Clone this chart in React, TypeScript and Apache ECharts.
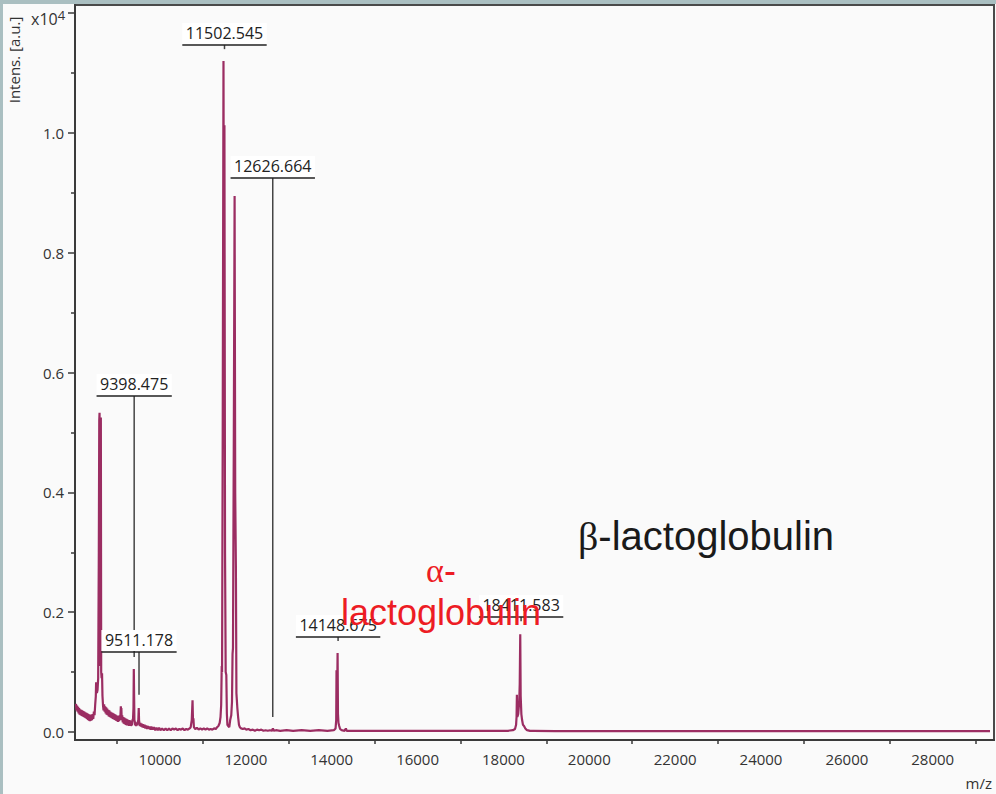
import React, { useEffect, useRef } from "react";
import * as echarts from "echarts";

// ---- spectrum (m/z, intensity in units of 10^4) ----
const spectrumMz = [
  8043, 8055, 8068, 8080, 8092, 8104, 8116, 8128, 8140, 8152, 8164, 8176, 8188, 8200, 8212, 8224,
  8236, 8248, 8260, 8272, 8284, 8296, 8308, 8320, 8332, 8344, 8356, 8368, 8380, 8392, 8404, 8416,
  8430, 8445, 8460, 8475, 8490, 8505, 8512, 8520, 8530, 8545, 8560, 8575, 8585, 8592, 8600, 8608,
  8615, 8622, 8630, 8640, 8650, 8660, 8672, 8685, 8698, 8710, 8722, 8734, 8746, 8758, 8770, 8782,
  8794, 8806, 8818, 8830, 8842, 8854, 8866, 8878, 8890, 8902, 8914, 8926, 8938, 8950, 8962, 8974,
  8986, 8998, 9010, 9022, 9034, 9046, 9058, 9070, 9080, 9088, 9094, 9100, 9108, 9120, 9132, 9144,
  9156, 9168, 9180, 9192, 9204, 9216, 9228, 9240, 9252, 9264, 9276, 9288, 9300, 9312, 9324, 9336,
  9348, 9360, 9372, 9382, 9390, 9397, 9404, 9414, 9422, 9432, 9444, 9456, 9468, 9480, 9495, 9505,
  9512, 9520, 9532, 9545, 9560, 9575, 9590, 9605, 9620, 9640, 9660, 9680, 9700, 9720, 9740, 9760,
  9780, 9800, 9830, 9860, 9890, 9920, 9950, 9980, 10010, 10050, 10090, 10130, 10170, 10210, 10250, 10290,
  10330, 10370, 10410, 10450, 10490, 10530, 10570, 10610, 10650, 10690, 10715, 10740, 10758, 10768, 10778, 10790,
  10820, 10860, 10900, 10940, 10980, 11020, 11060, 11100, 11140, 11180, 11220, 11260, 11300, 11330, 11360, 11390,
  11410, 11425, 11438, 11446, 11461, 11479, 11492, 11501, 11515, 11530, 11545, 11558, 11570, 11590, 11614, 11635,
  11660, 11677, 11690, 11700, 11720, 11738, 11752, 11768, 11780, 11792, 11802, 11820, 11840, 11860, 11890, 11930,
  11970, 12010, 12060, 12110, 12160, 12210, 12260, 12310, 12360, 12410, 12460, 12510, 12560, 12610, 12630, 12650,
  12700, 12800, 12950, 13100, 13300, 13500, 13700, 13900, 14050, 14090, 14105, 14112, 14120, 14128, 14137, 14146,
  14158, 14175, 14195, 14230, 14300, 14330, 14350, 14400, 14700, 15000, 15400, 15800, 16200, 16600, 17000, 17400,
  17800, 18100, 18220, 18270, 18295, 18306, 18314, 18324, 18345, 18368, 18380, 18392, 18402, 18418, 18435, 18455,
  18480, 18510, 18550, 18620, 18700, 19200, 20000, 21000, 22000, 23000, 24000, 25000, 26000, 27000, 28000, 29335,
];
const spectrumIntensity = [
  0.047, 0.036, 0.044, 0.034, 0.042, 0.031, 0.040, 0.029, 0.038, 0.028, 0.037, 0.027, 0.036, 0.026, 0.035, 0.025,
  0.034, 0.024, 0.033, 0.023, 0.032, 0.022, 0.031, 0.020, 0.030, 0.019, 0.029, 0.018, 0.028, 0.019, 0.029, 0.020,
  0.030, 0.022, 0.034, 0.028, 0.045, 0.060, 0.083, 0.070, 0.065, 0.070, 0.090, 0.300, 0.520, 0.533, 0.300, 0.110,
  0.520, 0.525, 0.100, 0.090, 0.098, 0.060, 0.045, 0.036, 0.046, 0.034, 0.043, 0.031, 0.041, 0.029, 0.039, 0.028,
  0.037, 0.026, 0.036, 0.025, 0.034, 0.024, 0.033, 0.023, 0.032, 0.022, 0.031, 0.021, 0.030, 0.020, 0.029, 0.019,
  0.028, 0.018, 0.027, 0.017, 0.026, 0.018, 0.028, 0.020, 0.030, 0.043, 0.032, 0.040, 0.020, 0.028, 0.016, 0.025,
  0.014, 0.024, 0.013, 0.023, 0.012, 0.022, 0.011, 0.021, 0.012, 0.020, 0.010, 0.020, 0.011, 0.019, 0.010, 0.018,
  0.011, 0.020, 0.022, 0.040, 0.105, 0.060, 0.020, 0.017, 0.011, 0.016, 0.010, 0.015, 0.011, 0.016, 0.020, 0.040,
  0.020, 0.015, 0.010, 0.015, 0.009, 0.014, 0.008, 0.013, 0.007, 0.012, 0.006, 0.011, 0.005, 0.010, 0.005, 0.009,
  0.004, 0.009, 0.004, 0.008, 0.003, 0.007, 0.003, 0.007, 0.003, 0.006, 0.003, 0.006, 0.003, 0.006, 0.003, 0.006,
  0.004, 0.006, 0.003, 0.005, 0.004, 0.006, 0.003, 0.005, 0.004, 0.006, 0.008, 0.020, 0.053, 0.022, 0.023, 0.008,
  0.005, 0.007, 0.004, 0.006, 0.004, 0.006, 0.004, 0.006, 0.004, 0.005, 0.004, 0.006, 0.005, 0.008, 0.010, 0.015,
  0.025, 0.045, 0.110, 0.100, 0.500, 1.120, 0.600, 1.013, 0.300, 0.100, 0.095, 0.030, 0.012, 0.010, 0.008, 0.020,
  0.028, 0.050, 0.130, 0.140, 0.500, 0.895, 0.400, 0.274, 0.065, 0.065, 0.040, 0.025, 0.012, 0.008, 0.006, 0.005,
  0.006, 0.004, 0.005, 0.003, 0.004, 0.002, 0.004, 0.003, 0.004, 0.002, 0.003, 0.002, 0.003, 0.002, 0.006, 0.002,
  0.003, 0.002, 0.003, 0.002, 0.003, 0.002, 0.003, 0.002, 0.003, 0.006, 0.020, 0.103, 0.050, 0.070, 0.132, 0.030,
  0.015, 0.010, 0.005, 0.003, 0.002, 0.006, 0.002, 0.002, 0.002, 0.002, 0.002, 0.002, 0.002, 0.002, 0.002, 0.002,
  0.002, 0.002, 0.003, 0.005, 0.012, 0.025, 0.062, 0.025, 0.030, 0.050, 0.080, 0.163, 0.060, 0.030, 0.020, 0.012,
  0.010, 0.006, 0.003, 0.002, 0.002, 0.0015, 0.0015, 0.0015, 0.0015, 0.0015, 0.0015, 0.0015, 0.0015, 0.0015, 0.0015, 0.0015,
];

// ---- peak annotations ----
const peakLabels = ["9398.475", "9511.178", "11502.545", "12626.664", "14148.675", "18411.583"];
const peakMz = [9398.475, 9511.178, 11502.545, 12626.664, 14148.675, 18411.583];
const peakLabelLevel = [0.561, 0.1336, 1.147, 0.925, 0.1586, 0.192];
const peakLineEnd = [0.125, 0.062, 1.14, 0.025, 0.152, 0.185];

// ---- axes ----
const xRange = [8020, 29428];
const yRange = [-0.01336, 1.2137];
const xLabelValues = [10000, 12000, 14000, 16000, 18000, 20000, 22000, 24000, 26000, 28000];
const xTickValues = [9000, 11000, 13000, 15000, 17000, 19000, 21000, 23000, 25000, 27000, 29000];
const yLabelValues = [0, 0.2, 0.4, 0.6, 0.8, 1.0];
const yMajorTicks = [0, 0.2, 0.4, 0.6, 0.8, 1.0, 1.2];
const yMinorTicks = [0.1, 0.3, 0.5, 0.7, 0.9, 1.1];

const LABEL_FONT = "16px 'Open Sans'";

function measure(text: string): number {
  const c = document.createElement("canvas").getContext("2d");
  if (!c) return text.length * 8.6;
  c.font = LABEL_FONT;
  return c.measureText(text).width;
}

export default function App() {
  const ref = useRef<HTMLDivElement>(null);
  useEffect(() => {
    if (!ref.current) return;
    const chart = echarts.init(ref.current, undefined, { renderer: "svg" });
    const widths = peakLabels.map((t) => measure(t) + 7);
    const lineData = spectrumMz.map((m, i) => [m, spectrumIntensity[i]]);
    const annData = peakMz.map((m, i) => [m, peakLabelLevel[i], peakLineEnd[i]]);
    const axisColor = "#3a3a3a";
    const tickFont = { fontFamily: "'Open Sans'", fontSize: 15, color: "#333" };

    chart.setOption({
      animation: false,
      backgroundColor: "#fafafa",
      grid: {
        left: 75,
        right: 2,
        top: 5,
        bottom: 54,
        show: true,
        borderColor: "#4a4a4a",
        borderWidth: 2,
        backgroundColor: "#fafafa",
      },
      xAxis: {
        type: "value",
        min: xRange[0],
        max: xRange[1],
        splitLine: { show: false },
        axisLine: { show: true, onZero: false, lineStyle: { color: axisColor, width: 2 } },
        axisTick: { show: true, length: 4, customValues: xTickValues, lineStyle: { color: axisColor, width: 1.5 } },
        axisLabel: { customValues: xLabelValues, margin: 11, formatter: (v: number) => String(v), ...tickFont },
      },
      yAxis: [
        {
          type: "value",
          min: yRange[0],
          max: yRange[1],
          splitLine: { show: false },
          axisLine: { show: true, onZero: false, lineStyle: { color: axisColor, width: 2 } },
          axisTick: { show: true, length: 7, customValues: yMajorTicks, lineStyle: { color: axisColor, width: 1.5 } },
          axisLabel: {
            customValues: yLabelValues,
            margin: 11,
            formatter: (v: number) => v.toFixed(1),
            ...tickFont,
          },
        },
        {
          type: "value",
          position: "left",
          min: yRange[0],
          max: yRange[1],
          splitLine: { show: false },
          axisLine: { show: false },
          axisLabel: { show: false },
          axisTick: { show: true, length: 4, customValues: yMinorTicks, lineStyle: { color: axisColor, width: 1.5 } },
        },
      ],
      series: [
        {
          type: "line",
          data: lineData,
          showSymbol: false,
          symbol: "none",
          lineStyle: { color: "#9b2d62", width: 2.2 },
          z: 2,
        },
        {
          type: "custom",
          data: annData,
          z: 5,
          renderItem: (params: any, api: any) => {
            const i = params.dataIndex;
            const p = api.coord([api.value(0), api.value(1)]);
            const e = api.coord([api.value(0), api.value(2)]);
            const w = widths[i];
            return {
              type: "group",
              children: [
                { type: "line", shape: { x1: p[0], y1: p[1], x2: e[0], y2: e[1] }, style: { stroke: "#444", lineWidth: 1.5 } },
                { type: "rect", shape: { x: p[0] - w / 2, y: p[1] - 22, width: w, height: 21 }, style: { fill: "#ffffff" } },
                { type: "line", shape: { x1: p[0] - w / 2, y1: p[1], x2: p[0] + w / 2, y2: p[1] }, style: { stroke: "#222", lineWidth: 1.5 } },
                {
                  type: "text",
                  x: p[0],
                  y: p[1] - 12,
                  style: { text: peakLabels[i], fill: "#222", font: LABEL_FONT, align: "center", verticalAlign: "middle" },
                },
              ],
            };
          },
        },
      ],
      graphic: [
        { type: "rect", left: 0, top: 0, shape: { width: 996, height: 4 }, style: { fill: "#aabfc1" }, z: 100 },
        { type: "rect", left: 0, top: 0, shape: { width: 3, height: 794 }, style: { fill: "#aabfc1" }, z: 100 },
        {
          type: "text",
          x: 14,
          y: 60,
          rotation: Math.PI / 2,
          style: {
            text: "Intens. [a.u.]",
            font: "15px 'Open Sans'",
            fill: "#333",
            align: "center",
            verticalAlign: "middle",
          },
          z: 50,
        },
        {
          type: "text",
          x: 31,
          y: 19,
          style: {
            text: "{a|x10}{b|4}",
            verticalAlign: "middle",
            rich: {
              a: { fontFamily: "'Open Sans'", fontSize: 16, fill: "#333", color: "#333" },
              b: { fontFamily: "'Open Sans'", fontSize: 13, fill: "#333", color: "#333", verticalAlign: "top", padding: [0, 0, 9, 0] },
            },
          },
          z: 50,
        },
        {
          type: "text",
          x: 992,
          y: 783,
          style: { text: "m/z", font: "15px 'Open Sans'", fill: "#333", align: "right", verticalAlign: "middle" },
          z: 50,
        },
        {
          type: "text",
          x: 441,
          y: 549,
          style: {
            text: "{g|α}{s|-}\n{s|lactoglobulin}",
            align: "center",
            verticalAlign: "top",
            fill: "#ed1c24",
            rich: {
              g: { fontFamily: "'Liberation Serif'", fontSize: 34, fill: "#ed1c24", color: "#ed1c24", lineHeight: 42 },
              s: { fontFamily: "'Liberation Sans'", fontSize: 36, fill: "#ed1c24", color: "#ed1c24", lineHeight: 42 },
            },
          },
          z: 60,
        },
        {
          type: "text",
          x: 706,
          y: 513,
          style: {
            text: "{g|β}{s|-lactoglobulin}",
            align: "center",
            verticalAlign: "top",
            fill: "#1a1a1a",
            rich: {
              g: { fontFamily: "'Liberation Serif'", fontSize: 40, fill: "#1a1a1a", color: "#1a1a1a", lineHeight: 46 },
              s: { fontFamily: "'Liberation Sans'", fontSize: 40, fill: "#1a1a1a", color: "#1a1a1a", lineHeight: 46 },
            },
          },
          z: 60,
        },
      ],
    });
    return () => chart.dispose();
  }, []);
  return (
    <div
      ref={ref}
      style={{ position: "fixed", left: 0, top: 0, width: 996, height: 794, background: "#fafafa" }}
    />
  );
}
